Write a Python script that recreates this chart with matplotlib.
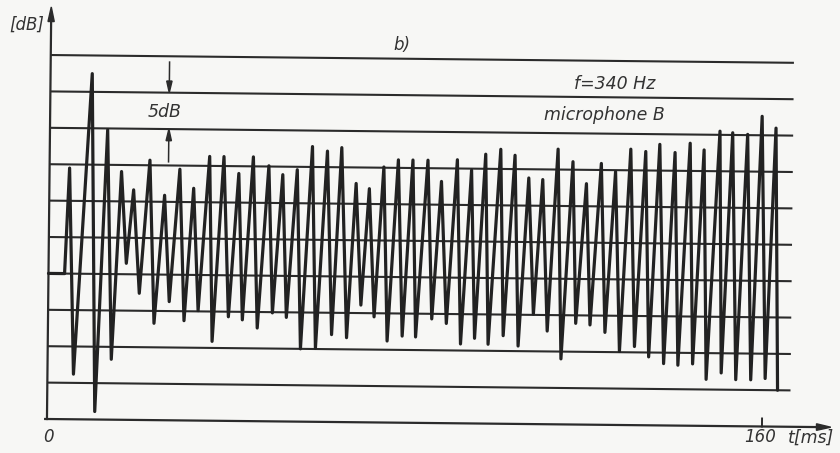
import matplotlib
matplotlib.use("Agg")
import matplotlib.pyplot as plt
import matplotlib.transforms as mtransforms
from matplotlib.patches import Polygon

# ---------------- data ----------------
start_t = [0.0, 3.6]
start_db = [20.0, 20.0]

peak_t = [4.48, 9.33, 12.91, 16.11, 18.86, 22.44, 25.80, 29.16, 32.29, 35.80,
          39.00, 42.36, 45.58, 49.07, 52.20, 55.43, 58.78, 62.14, 65.34, 68.63,
          71.60, 74.80, 78.03, 81.29, 84.65, 87.72, 91.23, 94.43, 97.56, 100.92,
          104.12, 107.25, 110.38, 113.74, 117.10, 120.16, 123.45, 126.65, 130.01, 133.36,
          136.49, 139.92, 143.28, 146.41, 149.92, 152.77, 156.12, 159.32, 162.45]
peak_db = [34.5, 47.5, 39.8, 34.1, 31.6, 35.7, 30.9, 34.5, 31.9, 36.3,
           36.3, 34.0, 36.3, 35.1, 33.9, 34.6, 37.8, 37.2, 37.7, 32.8,
           32.1, 35.1, 36.1, 36.1, 36.1, 33.2, 36.2, 34.8, 37.0, 37.7,
           36.9, 33.8, 33.6, 37.8, 36.1, 33.1, 35.9, 34.8, 37.9, 37.6,
           38.6, 37.5, 38.8, 37.9, 40.5, 40.3, 40.1, 42.6, 41.0]

trough_t = [5.82, 10.67, 14.25, 17.39, 20.36, 23.72, 27.08, 30.43, 33.56, 36.76,
            40.35, 43.48, 46.83, 50.19, 53.32, 56.55, 59.90, 63.48, 66.84, 69.97,
            72.95, 75.92, 79.28, 82.28, 85.86, 89.13, 92.35, 95.48, 98.52, 101.88,
            105.24, 108.59, 111.72, 114.86, 118.08, 121.28, 124.64, 127.93, 131.28, 134.48,
            137.84, 141.04, 144.33, 147.39, 150.75, 154.02, 157.37, 160.60]
trough_db = [6.2, 1.1, 8.3, 21.5, 17.4, 13.3, 16.3, 13.7, 15.1, 10.9,
             14.3, 13.9, 12.8, 14.9, 14.3, 10.0, 10.1, 12.0, 11.6, 16.1,
             14.5, 11.2, 11.9, 11.8, 14.3, 13.7, 10.9, 11.7, 10.9, 12.1,
             10.7, 15.1, 12.8, 9.0, 13.9, 13.7, 12.7, 10.1, 10.8, 9.4,
             8.5, 8.3, 8.5, 6.4, 7.3, 6.4, 6.4, 6.6]

end_t = [163.4]
end_db = [5.0]

grid_db = [5, 10, 15, 20, 25, 30, 35, 40, 45, 50]
grid_end_t = 166.3
x_tick_values = [0, 160]
x_tick_labels = ["0", "160"]

# ---------------- figure / mapping ----------------
W, H = 840, 453
fig = plt.figure(figsize=(W / 100, H / 100), dpi=100)
fig.patch.set_facecolor("#f7f7f5")
ax = fig.add_axes([0, 0, 1, 1])
ax.set_facecolor("none")
ax.axis("off")

px_per_ms = 4.469
px_per_db = 7.28
x0_px = 49.0
y0_px = 422.9  # image y of 0 dB (from top)
ax.set_xlim(-x0_px / px_per_ms, (W - x0_px) / px_per_ms)
ax.set_ylim((y0_px - H) / px_per_db, y0_px / px_per_db)

# slight tilt of the scanned original
rot = mtransforms.Affine2D().rotate_deg_around(420, H - 226, -0.6)
tr = ax.transData + rot

ink = "#2b2b2b"

# grid lines
for g in grid_db:
    ax.plot([0, grid_end_t], [g, g], color=ink, lw=1.5, transform=tr,
            solid_capstyle="butt")

# axes
ax.plot([0, 0], [0, 55.0], color=ink, lw=1.6, transform=tr)
ax.add_patch(Polygon([(0, 56.6), (-0.7, 54.6), (0.7, 54.6)], closed=True,
                     color=ink, transform=tr))
ax.plot([-0.4, 173.0], [0, 0], color=ink, lw=1.6, transform=tr)
ax.add_patch(Polygon([(175.4, 0), (172.2, 0.45), (172.2, -0.45)], closed=True,
                     color=ink, transform=tr))
for tv in x_tick_values[1:]:
    ax.plot([tv, tv], [0, 1.1], color=ink, lw=1.4, transform=tr)

# waveform
wave_t = list(start_t)
wave_db = list(start_db)
for i in range(len(peak_t)):
    wave_t.append(peak_t[i]); wave_db.append(peak_db[i])
    if i < len(trough_t):
        wave_t.append(trough_t[i]); wave_db.append(trough_db[i])
wave_t += end_t
wave_db += end_db
ax.plot(wave_t, wave_db, color="#222222", lw=2.3, transform=tr,
        solid_joinstyle="round", solid_capstyle="round")

# 5 dB marker arrows
t_ar = 26.6
ax.plot([t_ar, t_ar], [49.2, 46.3], color=ink, lw=1.1, transform=tr)
ax.add_patch(Polygon([(t_ar, 45.0), (t_ar - 0.6, 46.6), (t_ar + 0.6, 46.6)],
                     closed=True, color=ink, transform=tr))
ax.plot([t_ar, t_ar], [35.5, 38.7], color=ink, lw=1.1, transform=tr)
ax.add_patch(Polygon([(t_ar, 40.0), (t_ar - 0.6, 38.4), (t_ar + 0.6, 38.4)],
                     closed=True, color=ink, transform=tr))

# ---------------- text ----------------
def ftext(x, y, s, size=12, ha="center"):
    fig.text(x / W, 1 - y / H, s, ha=ha, va="center", fontsize=size,
             style="italic", color="#333333", family="DejaVu Sans")

ftext(27, 25, "[dB]", 12)
ftext(402, 45, "b)", 12)
ftext(615, 84, "f=340 Hz", 12.5)
ftext(604, 115, "microphone B", 12.5)
ftext(165, 112, "5dB", 12.5)
ftext(48, 437, x_tick_labels[0], 12)
ftext(760, 437, x_tick_labels[1], 12)
ftext(811, 438, "t[ms]", 12.5)

fig.savefig("out.png", dpi=100, facecolor=fig.get_facecolor())
